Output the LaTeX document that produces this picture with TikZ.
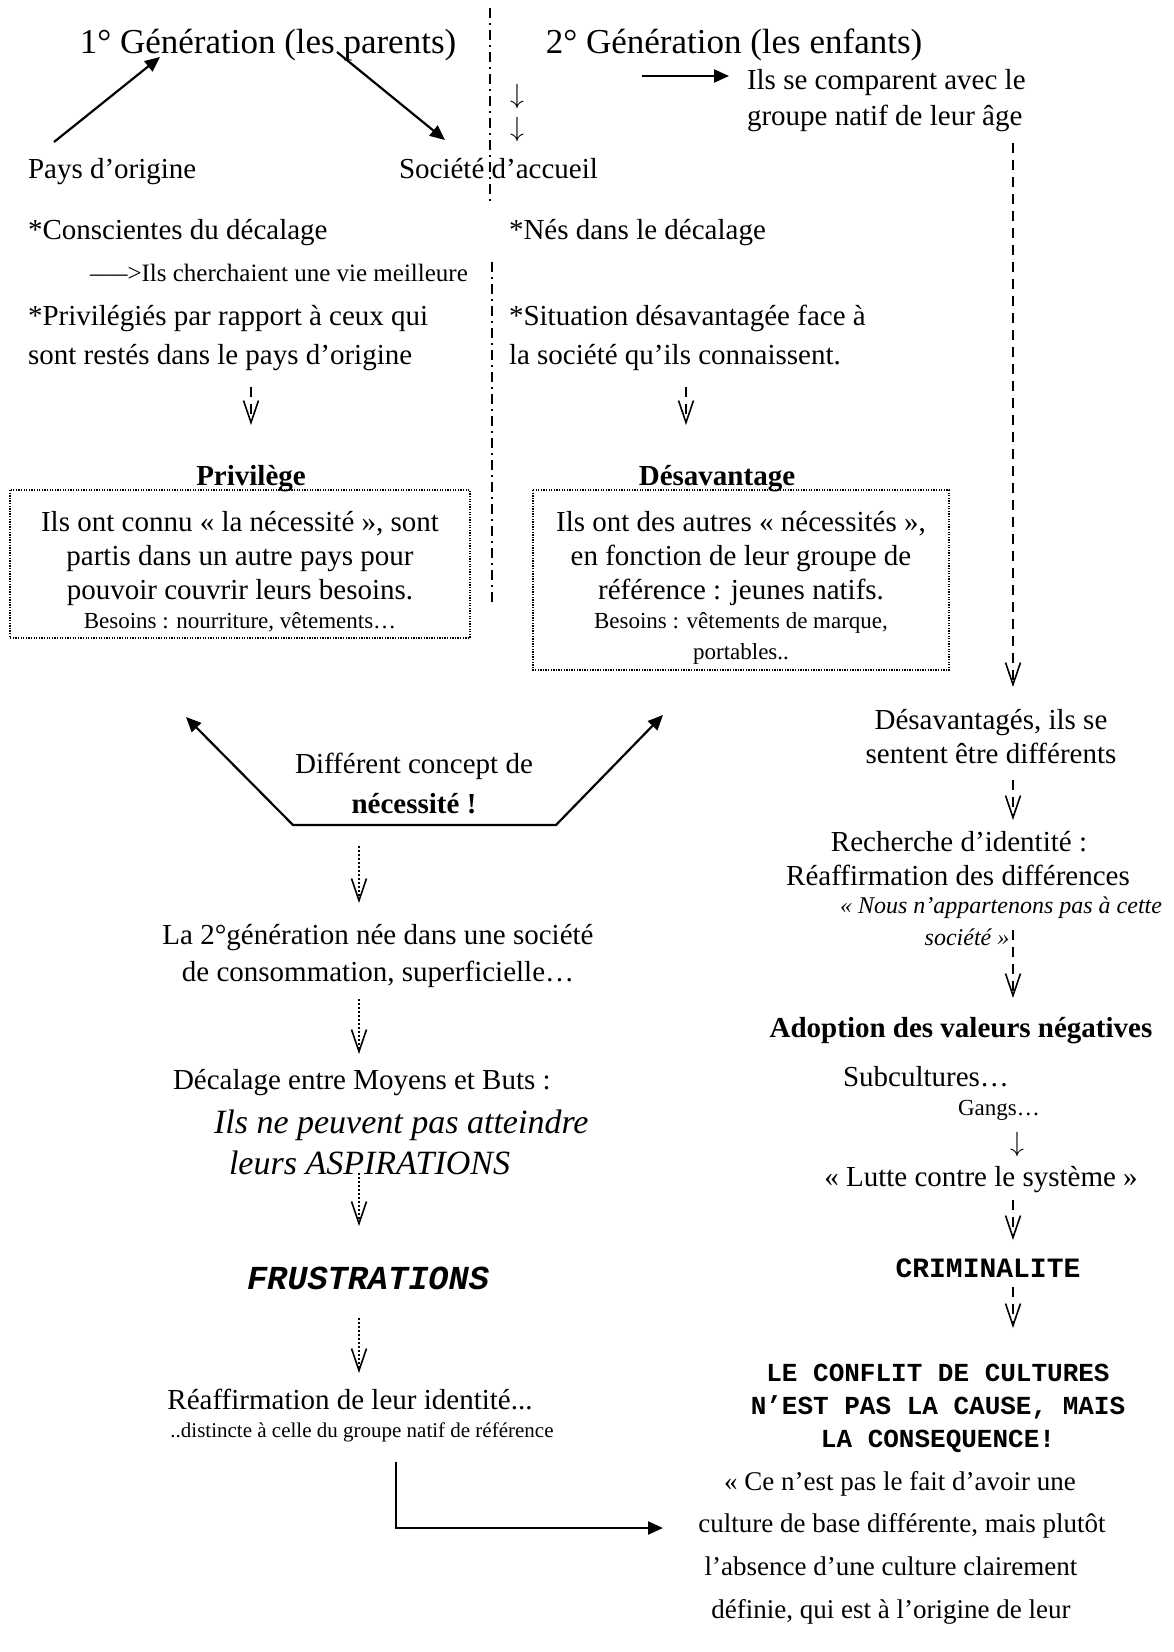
\documentclass[tikz,border=0pt]{standalone}
\usepackage{fontspec}
\setmainfont{Liberation Serif}
\setmonofont{Liberation Mono}
\usetikzlibrary{arrows.meta}
\tikzset{
  t/.style={inner sep=0pt, outer sep=0pt},
  fT/.style={t, font=\fontsize{35}{40}\selectfont},
  fB/.style={t, font=\fontsize{29}{35}\selectfont},
  fBb/.style={t, font=\fontsize{29}{35}\selectfont\bfseries},
  fS/.style={t, font=\fontsize{23}{28}\selectfont},
  fXS/.style={t, font=\fontsize{21}{25}\selectfont},
  fI/.style={t, font=\fontsize{34}{40}\selectfont\itshape},
  fIs/.style={t, font=\fontsize{24}{28}\selectfont\itshape},
  fQ/.style={t, font=\fontsize{27}{32}\selectfont},
  fM/.style={t, font=\fontsize{28}{32}\selectfont\ttfamily\bfseries},
  fMs/.style={t, font=\fontsize{26}{32}\selectfont\ttfamily\bfseries},
  fMi/.style={t, font=\fontsize{33.6}{38}\selectfont\ttfamily\bfseries\itshape},
  fArr/.style={t, font=\fontsize{24}{24}\selectfont, scale=1.12},
  solidarrow/.style={line width=2.2pt, -{Triangle[length=15pt,width=13pt]}},
  dasharrow/.style={line width=2pt, dash pattern=on 10pt off 7pt, -{Straight Barb[length=22pt,width=15pt,line width=1.6pt]}},
  dotarrow/.style={line width=1.6pt, dash pattern=on 2pt off 2pt, -{Straight Barb[length=22pt,width=15pt,line width=1.6pt]}},
  dotbox/.style={line width=1.3pt, dash pattern=on 1.3pt off 1.3pt},
  sep/.style={line width=1.6pt, dash pattern=on 10pt off 5pt on 2pt off 5pt}
}
\begin{document}
\begin{tikzpicture}[x=1pt,y=-1pt]
\useasboundingbox (0,0) rectangle (1174,1652);

% titles
\node[fT, anchor=base] (t1) at (268,53) {1° Génération (les parents)};
\node[fT, anchor=base] (t2) at (734,53) {2° Génération (les enfants)};

% separator
\coordinate (s1a) at (490,8);
\coordinate (s1b) at (490,205);
\coordinate (s2a) at (492,262);
\coordinate (s2b) at (492,605);
\draw[sep] (s1a) -- (s1b);
\draw[sep] (s2a) -- (s2b);

% left top
\node[fB, anchor=base west] (pays) at (28,178) {Pays d’origine};
\node[fB, anchor=base west] (soc) at (399,178) {Société d’accueil};
\coordinate (a1s) at (54,142);
\coordinate (a1e) at (160,57);
\coordinate (a2s) at (337,52);
\coordinate (a2e) at (445,140);
\draw[solidarrow] (a1s) -- (a1e);
\draw[solidarrow] (a2s) -- (a2e);

\node[fArr] (dn1) at (517,97) {$\downarrow$};
\node[fArr] (dn2) at (517,130) {$\downarrow$};

% right top
\coordinate (a3s) at (642,76);
\coordinate (a3e) at (729,76);
\draw[solidarrow] (a3s) -- (a3e);
\node[fB, anchor=base west] (cmp1) at (747,89) {Ils se comparent avec le};
\node[fB, anchor=base west] (cmp2) at (747,125) {groupe natif de leur âge};

\node[fB, anchor=base west] (consc) at (28,239) {*Conscientes du décalage};
\node[t, anchor=base west, font=\fontsize{25}{28}\selectfont] (cherch) at (90,281) {–––>Ils cherchaient une vie meilleure};
\node[fB, anchor=base west] (priv1) at (28,325) {*Privilégiés par rapport à ceux qui};
\node[fB, anchor=base west] (priv2) at (28,364) {sont restés dans le pays d’origine};

\node[fB, anchor=base west] (nes) at (509,239) {*Nés dans le décalage};
\node[fB, anchor=base west] (sit1) at (509,325) {*Situation désavantagée face à};
\node[fB, anchor=base west] (sit2) at (509,364) {la société qu’ils connaissent.};

\coordinate (pa) at (251,387);
\coordinate (pb) at (251,425);
\draw[dasharrow] (pa) -- (pb);
\coordinate (da) at (686,387);
\coordinate (db) at (686,425);
\draw[dasharrow] (da) -- (db);

\node[fBb, anchor=base] (privt) at (251,485) {Privilège};
\node[fBb, anchor=base] (desavt) at (717,485) {Désavantage};

% boxes
\draw[dotbox] (10,490) rectangle (470,638);
\node[fB, anchor=base] (bl1) at (240,531) {Ils ont connu « la nécessité », sont};
\node[fB, anchor=base] (bl2) at (240,565) {partis dans un autre pays pour};
\node[fB, anchor=base] (bl3) at (240,599) {pouvoir couvrir leurs besoins.};
\node[fS, anchor=base] (bl4) at (240,628) {Besoins : nourriture, vêtements…};

\draw[dotbox] (533,490) rectangle (949,670);
\node[fB, anchor=base] (br1) at (741,531) {Ils ont des autres « nécessités »,};
\node[fB, anchor=base] (br2) at (741,565) {en fonction de leur groupe de};
\node[fB, anchor=base] (br3) at (741,599) {référence : jeunes natifs.};
\node[fS, anchor=base] (br4) at (741,628) {Besoins : vêtements de marque,};
\node[fS, anchor=base] (br5) at (741,659) {portables..};

% V shape
\coordinate (vl) at (186,717);
\coordinate (vbl) at (293,825);
\coordinate (vbr) at (556,825);
\coordinate (vr) at (663,715);
\draw[line width=2.2pt, {Triangle[length=15pt,width=13pt]}-{Triangle[length=15pt,width=13pt]}] (vl) -- (vbl) -- (vbr) -- (vr);
\node[fB, anchor=base] (diff) at (414,773) {Différent concept de};
\node[fBb, anchor=base] (nec) at (414,813) {nécessité !};

% left lower chain
\coordinate (l1a) at (359,846);
\coordinate (l1b) at (359,903);
\draw[dotarrow] (l1a) -- (l1b);
\node[fB, anchor=base] (gen1) at (378,944) {La 2°génération née dans une société};
\node[fB, anchor=base] (gen2) at (378,981) {de consommation, superficielle…};
\coordinate (l2a) at (359,999);
\coordinate (l2b) at (359,1054);
\draw[dotarrow] (l2a) -- (l2b);
\node[fB, anchor=base west] (dec) at (173,1089) {Décalage entre Moyens et Buts :};
\node[fI, anchor=base west] (asp1) at (214,1133) {Ils ne peuvent pas atteindre};
\node[fI, anchor=base west] (asp2) at (229,1174) {leurs ASPIRATIONS};
\coordinate (l3a) at (359,1173);
\coordinate (l3b) at (359,1226);
\draw[dotarrow] (l3a) -- (l3b);
\node[fMi, anchor=base] (frus) at (368,1289) {FRUSTRATIONS};
\coordinate (l4a) at (359,1318);
\coordinate (l4b) at (359,1373);
\draw[dotarrow] (l4a) -- (l4b);
\node[fB, anchor=base] (reaf) at (350,1409) {Réaffirmation de leur identité...};
\node[fXS, anchor=base] (dist) at (362,1437) {..distincte à celle du groupe natif de référence};
\coordinate (la) at (396,1462);
\coordinate (lc) at (396,1528);
\coordinate (lb) at (663,1528);
\draw[solidarrow] (la) -- (lc) -- (lb);

% right column
\coordinate (r0a) at (1013,143);
\coordinate (r0b) at (1013,687);
\draw[dasharrow] (r0a) -- (r0b);
\node[fB, anchor=base] (dsv1) at (991,729) {Désavantagés, ils se};
\node[fB, anchor=base] (dsv2) at (991,763) {sentent être différents};
\coordinate (r1a) at (1013,780);
\coordinate (r1b) at (1013,820);
\draw[dasharrow] (r1a) -- (r1b);
\node[fB, anchor=base] (rech1) at (959,851) {Recherche d’identité :};
\node[fB, anchor=base] (rech2) at (958,885) {Réaffirmation des différences};
\node[fIs, anchor=base] (nous1) at (1001,913) {« Nous n’appartenons pas à cette};
\node[fIs, anchor=base] (nous2) at (967,945) {société »};
\coordinate (r2a) at (1013,930);
\coordinate (r2b) at (1013,998);
\draw[dasharrow] (r2a) -- (r2b);
\node[fBb, anchor=base] (adop) at (961,1037) {Adoption des valeurs négatives};
\node[fB, anchor=base west] (subc) at (843,1086) {Subcultures…};
\node[fS, anchor=base west] (gang) at (958,1115) {Gangs…};
\node[fArr] (dn3) at (1017,1145) {$\downarrow$};
\node[fB, anchor=base] (lutte) at (981,1186) {« Lutte contre le système »};
\coordinate (r3a) at (1013,1200);
\coordinate (r3b) at (1013,1240);
\draw[dasharrow] (r3a) -- (r3b);
\node[fM, anchor=base] (crim) at (988,1277) {CRIMINALITE};
\coordinate (r4a) at (1013,1287);
\coordinate (r4b) at (1013,1328);
\draw[dasharrow] (r4a) -- (r4b);
\node[fMs, anchor=base] (conf1) at (938,1381) {LE CONFLIT DE CULTURES};
\node[fMs, anchor=base] (conf2) at (938,1414) {N’EST PAS LA CAUSE, MAIS};
\node[fMs, anchor=base] (conf3) at (938,1447) {LA CONSEQUENCE!};
\node[fQ, anchor=base] (q1) at (900,1490) {« Ce n’est pas le fait d’avoir une};
\node[fQ, anchor=base] (q2) at (902,1532) {culture de base différente, mais plutôt};
\node[fQ, anchor=base] (q3) at (891,1575) {l’absence d’une culture clairement};
\node[fQ, anchor=base] (q4) at (891,1618) {définie, qui est à l’origine de leur};
\end{tikzpicture}
\end{document}
